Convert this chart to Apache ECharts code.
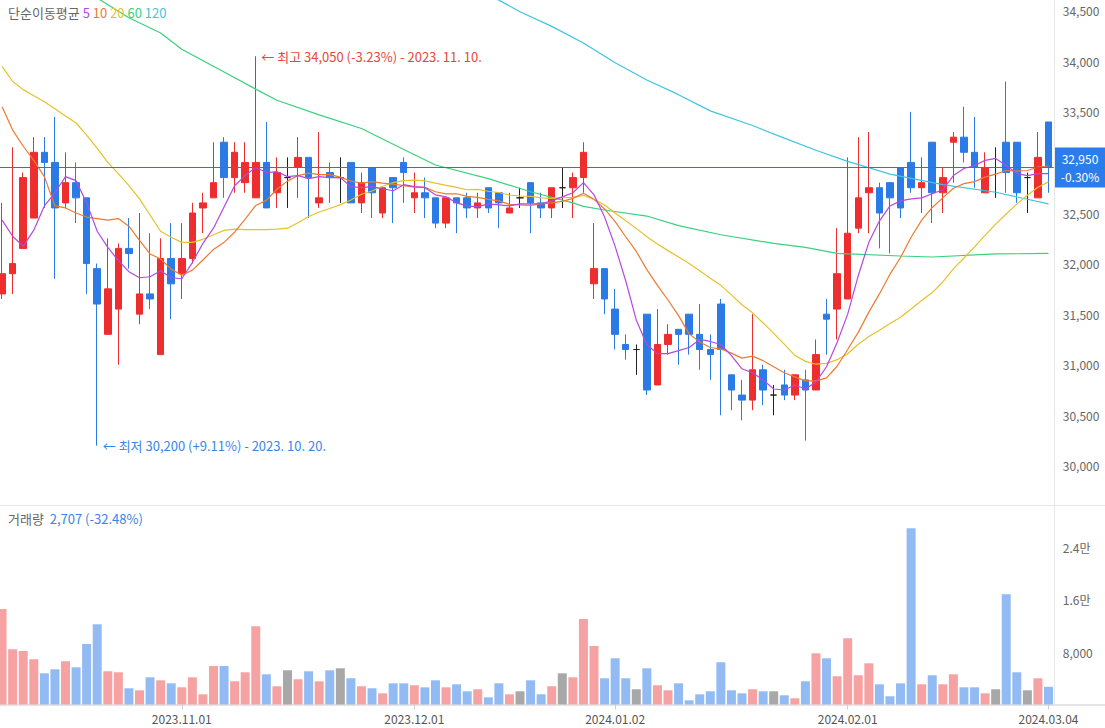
<!DOCTYPE html>
<html>
<head>
<meta charset="utf-8">
<style>html,body{margin:0;padding:0;background:#fff;}#chart{width:1105px;height:728px;}</style>
<script src="https://cdn.jsdelivr.net/npm/echarts@6/dist/echarts.min.js"></script>
</head>
<body>
<div id="chart"></div>
<script>
const dates = [
'2023.10.06','2023.10.10','2023.10.11','2023.10.12','2023.10.13','2023.10.16','2023.10.17','2023.10.18','2023.10.19','2023.10.20',
'2023.10.23','2023.10.24','2023.10.25','2023.10.26','2023.10.27','2023.10.30','2023.10.31',
'2023.11.01','2023.11.02','2023.11.03','2023.11.06','2023.11.07','2023.11.08','2023.11.09','2023.11.10','2023.11.13','2023.11.14','2023.11.15','2023.11.16','2023.11.17','2023.11.20','2023.11.21','2023.11.22','2023.11.23','2023.11.24','2023.11.27','2023.11.28','2023.11.29','2023.11.30',
'2023.12.01','2023.12.04','2023.12.05','2023.12.06','2023.12.07','2023.12.08','2023.12.11','2023.12.12','2023.12.13','2023.12.14','2023.12.15','2023.12.18','2023.12.19','2023.12.20','2023.12.21','2023.12.22','2023.12.26','2023.12.27','2023.12.28',
'2024.01.02','2024.01.03','2024.01.04','2024.01.05','2024.01.08','2024.01.09','2024.01.10','2024.01.11','2024.01.12','2024.01.15','2024.01.16','2024.01.17','2024.01.18','2024.01.19','2024.01.22','2024.01.23','2024.01.24','2024.01.25','2024.01.26','2024.01.29','2024.01.30','2024.01.31',
'2024.02.01','2024.02.02','2024.02.05','2024.02.06','2024.02.07','2024.02.08','2024.02.13','2024.02.14','2024.02.15','2024.02.16','2024.02.19','2024.02.20','2024.02.21','2024.02.22','2024.02.23','2024.02.26','2024.02.27','2024.02.28','2024.02.29',
'2024.03.04'];

const opens = [
31700,31900,32150,32450,33100,33000,32600,32800,32650,31950,
31300,31550,32150,31500,31700,31100,32050,31900,32050,32550,
32650,33200,32850,32800,32650,33000,32700,32850,32950,33050,
32600,32900,32850,33000,32600,32950,32500,32850,33000,32650,
32700,32650,32400,32650,32650,32550,32750,32700,32500,32650,
32800,32600,32550,32750,32750,32850,31800,31950,31550,31200,
31150,31500,30800,31200,31350,31500,31300,31150,31600,30900,
30700,30650,30950,30700,30800,30700,30850,30750,31500,31550,
31650,32350,32700,32750,32800,32950,33000,32750,33200,32700,
33200,33250,33100,32700,32950,33200,33200,32850,32650,33400];

const closes = [
31900,32000,32850,33100,33000,32550,32800,32650,32000,31600,
31750,32150,32100,31700,31650,32050,31800,32050,32500,32600,
32800,32850,33100,33000,33000,32550,32900,32850,33050,32850,
32650,32850,32850,32600,32800,32700,32750,32750,32900,32700,
32650,32400,32650,32600,32550,32600,32550,32600,32550,32650,
32600,32550,32750,32750,32850,33100,31950,31650,31300,31150,
31150,30750,31200,31300,31300,31300,31150,31100,31150,30750,
30650,30950,30750,30700,30700,30900,30750,31100,31450,31900,
32300,32650,32750,32500,32650,32550,32750,32800,32700,32850,
33250,33100,32950,32950,32950,32900,32700,32850,33050,32950];

const lows = [
31650,31700,32150,32450,32550,31850,32550,32400,31700,30200,
31300,31000,31950,31400,31550,31100,31450,31650,32000,32300,
32650,32650,32700,32700,32650,32550,32550,32550,32650,32450,
32550,32600,32600,32600,32500,32450,32450,32400,32600,32500,
32450,32350,32350,32300,32450,32450,32500,32350,32500,32550,
32300,32450,32450,32550,32450,32700,31650,31500,31150,31050,
30900,30700,30800,31100,31000,31100,30950,30850,30500,30550,
30450,30550,30600,30500,30650,30650,30250,30750,31100,31250,
31650,32300,32300,32150,32100,32450,32700,32500,32400,32500,
32800,33000,32750,32700,32650,32700,32600,32500,32650,32700];

const highs = [
32600,33150,32900,33250,33250,33450,33100,33000,32650,32000,
32250,32200,32450,32500,32300,32250,32400,32400,32600,32700,
33200,33250,33200,33200,34050,33400,33050,33050,33250,33050,
33300,33000,33050,33000,32900,32950,32750,32850,33050,32900,
32850,32650,32650,32650,32700,32700,32750,32700,32700,32750,
32800,32700,32750,32950,32900,33200,32400,31950,31750,31300,
31200,31500,31550,31400,31350,31500,31600,31300,31650,30900,
30850,31500,31000,30800,30950,30900,30950,31250,31650,32350,
33050,33250,33300,32800,32800,32950,33500,33050,33200,32950,
33300,33550,33450,33100,33150,33800,33200,32900,33300,33400];

const volumes = [
14600,8450,8190,6920,4770,5390,6610,5690,9260,12270,
5080,4930,2480,2170,4160,3700,3240,2630,4160,1560,
5890,5890,3550,4930,11970,4620,2790,5230,3860,5080,
3550,5230,5540,4010,2790,2480,1710,3240,3240,2940,
2630,3700,2630,3090,2020,2330,1100,3240,1560,2020,
3700,1560,2790,4770,4160,13080,8950,4010,7070,4010,
2330,5540,2940,2170,3240,640,1560,2020,6460,2170,
1710,2330,2020,2020,1410,950,3550,7830,7070,4320,
10130,4470,6300,3090,1260,3240,26960,3090,4470,3090,
4620,2630,2630,1710,2330,16860,4930,2170,4009,2707];

const ma5Early = [32430,32270,32170,32330];
const ma10Early = [33550,33320,33160,33020,32860,32570,32550,32500,32460];
const ma20Early = [33950,33800,33720,33660,33600,33530,33460,33390,33270,33140,33000,32890,32770,32640,32480,32320,32260,32210,32210];
// long averages as [candle index, value]
const ma60Points = [[8,34700],[9,34625],[12,34430],[15,34280],[17,34120],[21,33895],[24,33725],[26,33615],[30,33470],[34,33335],[37,33180],[41,32975],[46,32840],[50,32710],[54,32600],[55,32565],[57,32530],[61,32470],[64,32375],[68,32285],[73,32200],[76,32160],[79,32100],[85,32075],[88,32065],[94,32095],[99,32100]];
const ma120Points = [[46,34655],[47,34605],[49,34490],[52,34345],[55,34180],[58,33985],[61,33815],[64,33670],[67,33510],[71,33365],[74,33240],[77,33120],[80,33010],[84,32885],[89,32780],[94,32705],[99,32590]];

const dateLabels = ['2023.11.01','2023.12.01','2024.01.02','2024.02.01','2024.03.04'];
// 33,000 sits under the current-price tag in the reference, so it is not listed
const priceTicks = [30000,30500,31000,31500,32000,32500,33500,34000,34500];
const volumeTicks = [8000,16000,24000];

const FONT = '"Noto Sans CJK KR","Noto Sans",sans-serif';
const RED = '#ee2e2e', BLUE = '#2b7be6', DOJI = '#222222';
const RED_L = '#f6a2a2', BLUE_L = '#92bbf4', GRAY_L = '#a8a8a8';
const NOW_BLUE = '#2b7de9';
const MA_COLORS = {m5:'#b548e2', m10:'#ee7a30', m20:'#e6c12a', m60:'#38d27c', m120:'#3ec4e2'};

function fmt(v){ return String(v).replace(/\B(?=(\d{3})+(?!\d))/g, ','); }
function movingAvg(n, early){
  return closes.map((c,i)=>{
    if (i < n-1) return early[i];
    let s = 0; for (let k=i-n+1;k<=i;k++) s += closes[k];
    return Math.round(s/n);
  });
}
const ma5 = movingAvg(5, ma5Early);
const ma10 = movingAvg(10, ma10Early);
const ma20 = movingAvg(20, ma20Early);

const N = closes.length;
const last = closes[N-1], prev = closes[N-2];
const chgPct = (last-prev)/prev*100;
const volPct = (volumes[N-1]-volumes[N-2])/volumes[N-2]*100;
let hiIdx = 0, loIdx = 0;
for (let i=0;i<N;i++){ if (highs[i]>highs[hiIdx]) hiIdx=i; if (lows[i]<lows[loIdx]) loIdx=i; }
function sgn(p){ return (p>=0?'+':'-') + Math.abs(p).toFixed(2); }
function dfmt(d){ return d.split('.').join('. ') + '.'; }
const hiText = '← 최고 ' + fmt(highs[hiIdx]) + ' (' + sgn((last-highs[hiIdx])/highs[hiIdx]*100) + '%) - ' + dfmt(dates[hiIdx]);
const loText = '← 최저 ' + fmt(lows[loIdx]) + ' (' + sgn((last-lows[loIdx])/lows[loIdx]*100) + '%) - ' + dfmt(dates[loIdx]);

const candleData = dates.map((d,i)=>{
  const v = [opens[i], closes[i], lows[i], highs[i]];
  if (opens[i] === closes[i]) return {value: v, itemStyle:{color:DOJI,color0:DOJI,borderColor:DOJI,borderColor0:DOJI,borderColorDoji:DOJI}};
  return v;
});
const volData = volumes.map((v,i)=>({value:v, itemStyle:{color: closes[i]>opens[i]?RED_L:(closes[i]<opens[i]?BLUE_L:GRAY_L)}}));
const labelSet = new Set(dateLabels.map(d=>dates.indexOf(d)));

const chart = echarts.init(document.getElementById('chart'), null, {renderer:'svg'});
const gridLeft = -3.2, gridRight = 51.2;
const plain = (c)=>({color:c,fontSize:13,fontFamily:FONT,fontWeight:'normal'});
const baseLines = [
  {type:'line', shape:{x1:0,y1:505.5,x2:1105,y2:505.5}, style:{stroke:'#e6e6e6',lineWidth:1}, silent:true},
  {type:'line', shape:{x1:1054.5,y1:0,x2:1054.5,y2:705}, style:{stroke:'#e6e6e6',lineWidth:1}, silent:true},
  {type:'line', shape:{x1:0,y1:705,x2:1105,y2:705}, style:{stroke:'#dcdcdc',lineWidth:1.5}, silent:true}
];
chart.setOption({
  animation: false,
  textStyle: {fontFamily: FONT},
  title: [
    {left: 3, top: 1, text: '{t|단순이동평균} {m5|5} {m10|10} {m20|20} {m60|60} {m120|120}',
     textStyle: {fontSize: 13, fontFamily: FONT, fontWeight:'normal', rich: {
       t:plain('#666'), m5:plain(MA_COLORS.m5), m10:plain(MA_COLORS.m10), m20:plain(MA_COLORS.m20),
       m60:plain(MA_COLORS.m60), m120:plain(MA_COLORS.m120)}}},
    {left: 3, top: 507, text: '{t|거래량}  {v|' + fmt(volumes[N-1]) + ' (' + sgn(volPct) + '%)}',
     textStyle: {fontSize: 13, fontFamily: FONT, fontWeight:'normal', rich: {t:plain('#666'), v:plain('#3a86e8')}}}
  ],
  grid: [
    {left: gridLeft, right: gridRight, top: 0, bottom: 223, outerBoundsMode:'none', containLabel:false},
    {left: gridLeft, right: gridRight, top: 495.3, bottom: 23.5, outerBoundsMode:'none', containLabel:false}
  ],
  xAxis: [
    {type:'category', gridIndex:0, data: dates, boundaryGap:true, show:false},
    {type:'category', gridIndex:1, data: dates, boundaryGap:true,
     axisLine:{show:false},
     axisTick:{show:true, alignWithLabel:true, length:5, lineStyle:{color:'#cfcfcf'}, interval:(i)=>labelSet.has(i)},
     axisLabel:{show:true, color:'#555', fontSize:12, margin:8, interval:(i)=>labelSet.has(i), hideOverlap:false},
     splitLine:{show:false}}
  ],
  yAxis: [
    {type:'value', gridIndex:0, position:'right', min:29613, max:34606, scale:true,
     axisLine:{show:false}, axisTick:{show:false}, splitLine:{show:false},
     axisLabel:{color:'#666', fontSize:12, margin:9, customValues: priceTicks, showMinLabel:true, showMaxLabel:true, formatter:(v)=>fmt(v)}},
    {type:'value', gridIndex:1, position:'right', min:0, max:32000, interval:8000,
     axisLine:{show:false}, axisTick:{show:false}, splitLine:{show:false},
     axisLabel:{color:'#666', fontSize:12, margin:9, customValues: volumeTicks, formatter:(v)=> (v<=0||v>=32000)?'':(v>=10000?(v/10000)+'만':fmt(v))}}
  ],
  series: [
    {type:'candlestick', name:'price', xAxisIndex:0, yAxisIndex:0, data:candleData, barWidth:7,
     itemStyle:{color:RED, color0:BLUE, borderColor:RED, borderColor0:BLUE, borderColorDoji:DOJI, borderWidth:1},
     markLine:{symbol:['none','none'], silent:true, z:10,
       lineStyle:{color:'#2f72dc', width:1, type:'solid'},
       label:{show:false},
       data:[{yAxis:last}]},
     markPoint:{symbol:'circle', symbolSize:1, itemStyle:{color:'rgba(0,0,0,0)'}, silent:true,
       data:[
         {coord:[hiIdx, highs[hiIdx]], label:{show:true, position:'right', distance:5, formatter:hiText, color:'#e8453c', fontSize:13, fontFamily:FONT}},
         {coord:[loIdx, lows[loIdx]], label:{show:true, position:'right', distance:5, formatter:loText, color:'#3a86e8', fontSize:13, fontFamily:FONT}}
       ]}},
    {type:'line', name:'MA120', data:ma120Points, showSymbol:false, lineStyle:{color:MA_COLORS.m120,width:1.2}, z:3},
    {type:'line', name:'MA60', data:ma60Points, showSymbol:false, lineStyle:{color:MA_COLORS.m60,width:1.2}, z:3},
    {type:'line', name:'MA20', data:ma20, showSymbol:false, lineStyle:{color:MA_COLORS.m20,width:1.2}, z:3},
    {type:'line', name:'MA10', data:ma10, showSymbol:false, lineStyle:{color:MA_COLORS.m10,width:1.2}, z:3},
    {type:'line', name:'MA5', data:ma5, showSymbol:false, lineStyle:{color:MA_COLORS.m5,width:1.2}, z:3},
    {type:'bar', name:'volume', xAxisIndex:1, yAxisIndex:1, data:volData, barWidth:9}
  ],
  graphic: baseLines
});

// price tag on the right axis, placed at the last close through the price scale
const py = chart.convertToPixel({yAxisIndex:0}, last);
chart.setOption({
  graphic: baseLines.concat([
    {type:'rect', shape:{x:1055, y:py-20, width:50, height:40}, style:{fill:NOW_BLUE}, silent:true, z:20},
    {type:'text', x:1080, y:py-9, style:{text:fmt(last), fill:'#fff', font:'12px ' + FONT, textAlign:'center', textVerticalAlign:'middle'}, silent:true, z:21},
    {type:'text', x:1080, y:py+9, style:{text:sgn(chgPct)+'%', fill:'#fff', font:'12px ' + FONT, textAlign:'center', textVerticalAlign:'middle'}, silent:true, z:21}
  ])
});
</script>
</body>
</html>
